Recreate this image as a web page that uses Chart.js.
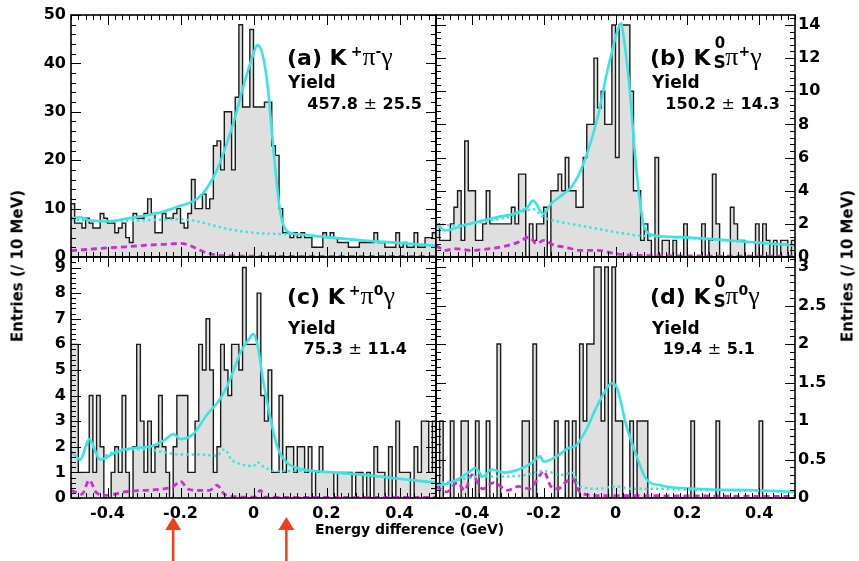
<!DOCTYPE html>
<html><head><meta charset="utf-8">
<script src="https://cdn.jsdelivr.net/npm/chart.js@4.4.1/dist/chart.umd.min.js"></script>
<style>
html,body{margin:0;padding:0;background:#fff;width:859px;height:561px;overflow:hidden;position:relative}
canvas{position:absolute;left:0;top:0}
.t{position:absolute;white-space:nowrap;line-height:1;font-family:"DejaVu Sans",sans-serif;font-weight:bold;color:#000}
.g{font-family:"Liberation Serif","DejaVu Serif",serif;font-weight:normal}
.sp{position:relative;line-height:0}
.pm{font-weight:normal}
</style></head><body>
<canvas id="cA" width="859" height="561"></canvas>
<canvas id="cB" width="859" height="561"></canvas>
<canvas id="cC" width="859" height="561"></canvas>
<canvas id="cD" width="859" height="561"></canvas>

<div class="t" style="left:287px;top:44px;font-size:22px">(a) K<span class="sp" style="font-size:14px;top:-9px;margin-left:4px">+</span><span class="g" style="font-size:26px">π</span><span class="sp" style="font-size:14px;top:-9px">-</span><span class="g" style="font-size:26px">γ</span></div>
<div class="t" style="left:288px;top:74px;font-size:17px">Yield</div>
<div class="t" style="right:437px;top:96px;font-size:16px">457.8 <span class="pm">±</span> 25.5</div>

<div class="t" style="left:650px;top:44px;font-size:22px">(b) K<span class="sp" style="font-size:17px;top:3px;margin-left:3px">S</span><span class="sp" style="font-size:15px;top:-17px;margin-left:-11px">0</span><span class="g" style="font-size:26px">π</span><span class="sp" style="font-size:14px;top:-9px">+</span><span class="g" style="font-size:26px">γ</span></div>
<div class="t" style="left:652px;top:74px;font-size:17px">Yield</div>
<div class="t" style="right:79px;top:96px;font-size:16px">150.2 <span class="pm">±</span> 14.3</div>

<div class="t" style="left:287px;top:283px;font-size:22px">(c) K<span class="sp" style="font-size:14px;top:-9px;margin-left:4px">+</span><span class="g" style="font-size:26px">π</span><span class="sp" style="font-size:14px;top:-9px">0</span><span class="g" style="font-size:26px">γ</span></div>
<div class="t" style="left:288px;top:320px;font-size:17px">Yield</div>
<div class="t" style="right:452px;top:341px;font-size:16px">75.3 <span class="pm">±</span> 11.4</div>

<div class="t" style="left:650px;top:283px;font-size:22px">(d) K<span class="sp" style="font-size:17px;top:3px;margin-left:3px">S</span><span class="sp" style="font-size:15px;top:-17px;margin-left:-11px">0</span><span class="g" style="font-size:26px">π</span><span class="sp" style="font-size:14px;top:-9px">0</span><span class="g" style="font-size:26px">γ</span></div>
<div class="t" style="left:652px;top:320px;font-size:17px">Yield</div>
<div class="t" style="right:104px;top:341px;font-size:16px">19.4 <span class="pm">±</span> 5.1</div>

<div class="t" style="left:18px;top:266px;font-size:15px;transform:translate(-50%,-50%) rotate(-90deg)">Entries (/ 10 MeV)</div>
<div class="t" style="left:848px;top:266px;font-size:15px;transform:translate(-50%,-50%) rotate(-90deg)">Entries (/ 10 MeV)</div>
<div class="t" style="left:315px;top:522px;font-size:14px">Energy difference (GeV)</div>

<script>
// ---------- data ----------
const binLow = Array.from({length: 100}, (_, i) => -0.5 + i * 0.01); // 10 MeV bins, lower edges (GeV)
const xRange = [-0.5, 0.5];
const xTickLabels = [-0.4, -0.2, 0, 0.2, 0.4];
const yTicksA = [0, 10, 20, 30, 40, 50];
const yTicksB = [0, 2, 4, 6, 8, 10, 12, 14];
const yTicksC = [0, 1, 2, 3, 4, 5, 6, 7, 8, 9];
const yTicksD = [0, 0.5, 1, 1.5, 2, 2.5, 3];
const arrowMarks = [-0.22, 0.09];

// (a) K+ pi- gamma
const binsA = [11,7,7,6,8,7,6,6,9,8, 7,7,5,6,7,4,3,9,8,8, 9,12,9,5,5,9,8,8,9,10,
  7,6,9,16,10,10,13,10,12,23, 24,18,30,30,18,33,48,31,31,47, 31,31,31,32,32,23,21,10,5,5,
  4,5,4,5,4,4,2,2,2,5, 4,5,4,3,3,3,2,2,2,3, 3,3,3,5,3,3,2,2,2,5, 2,3,2,2,5,2,2,4,4,5];
const totA_x = [-0.5,-0.475,-0.45,-0.4,-0.35,-0.3,-0.25,-0.2,-0.175,-0.15,-0.125,-0.1,-0.075,-0.05,-0.025,0,0.01,0.02,0.03,0.04,0.05,0.06,0.07,0.08,0.09,0.1,0.15,0.2,0.3,0.4,0.5];
const totA   = [8.0,8.2,7.6,7.4,7.9,8.5,9.3,10.6,11.2,12.3,14.5,18,23,29,36,42,43.8,43,40,34.5,26,18,11,7,5.5,5,4.5,4.1,3.4,2.9,2.3];
const bkgA_x = [-0.5,-0.45,-0.4,-0.3,-0.2,-0.15,-0.1,-0.05,0,0.05,0.1,0.15,0.2,0.3,0.4,0.5];
const bkgA   = [7.8,7.5,7.4,7.6,7.8,7.3,6.3,5.5,5.0,4.8,4.7,4.5,4.1,3.4,2.9,2.3];
const magA_x = [-0.5,-0.45,-0.4,-0.35,-0.3,-0.25,-0.2,-0.175,-0.15,-0.125,-0.1,-0.05,0,0.1,0.2,0.3,0.4,0.5];
const magA   = [1.3,1.6,1.9,2.1,2.4,2.6,2.8,2.4,1.5,0.8,0.4,0.2,0.15,0.12,0.1,0.1,0.1,0.1];

// (b) K0S pi+ gamma
const binsB = [2,1,1,1,2,3,4,1,7,4, 4,1,1,2,4,2,2,2,2,2, 2,3,2,5,5,0,2,1,2,2,
  3,0,4,4,5,4,6,4,4,3, 3,6,8,8,12,9,10,8,8,14, 6,14,14,14,10,4,4,1,2,1,
  0,6,0,1,1,0,1,0,0,2, 0,0,0,0,2,0,1,5,2,0, 0,0,3,2,1,1,0,0,0,2, 0,2,1,0,1,0,1,1,0,1];
const totB_x = [-0.5,-0.475,-0.425,-0.37,-0.33,-0.285,-0.245,-0.23,-0.2,-0.18,-0.145,-0.12,-0.09,-0.05,-0.025,0.005,0.015,0.025,0.04,0.055,0.07,0.08,0.11,0.18,0.32,0.5];
const totB   = [2.05,1.6,1.9,2.2,2.4,2.6,3.0,3.4,2.6,3.2,3.8,4.3,5.6,8.4,11,13.6,14.1,12.9,10,6,3,1.8,1.3,1.2,1.0,0.7];
const bkgB_x = [-0.5,-0.45,-0.4,-0.35,-0.3,-0.25,-0.23,-0.2,-0.15,-0.1,-0.05,0,0.03,0.06,0.1,0.2,0.3,0.4,0.5];
const bkgB   = [2.0,1.9,2.0,2.2,2.4,2.8,2.9,2.4,2.1,1.9,1.7,1.5,1.4,1.3,1.25,1.15,1.0,0.85,0.7];
const magB_x = [-0.5,-0.475,-0.45,-0.4,-0.35,-0.3,-0.27,-0.24,-0.22,-0.2,-0.17,-0.14,-0.1,-0.05,0,0.05,0.5];
const magB   = [0.7,0.4,0.5,0.4,0.5,0.7,0.9,1.2,0.8,1.0,0.7,0.6,0.4,0.4,0.2,0.1,0.05];

// (c) K+ pi0 gamma
const binsC = [6,6,1,1,1,4,1,4,2,0, 0,1,2,1,4,1,0,2,6,3, 1,3,1,2,4,2,1,0,2,4,
  4,4,1,1,3,6,5,7,5,1, 2,6,5,4,6,6,5,9,6,6, 6,8,4,3,5,1,1,4,1,2,
  2,1,2,2,1,2,0,1,2,1, 1,1,0,1,1,1,1,0,1,1, 0,1,0,2,1,1,0,2,0,3, 1,1,1,0,2,1,3,3,1,3];
const totC_x = [-0.5,-0.475,-0.45,-0.42,-0.375,-0.33,-0.285,-0.24,-0.22,-0.2,-0.165,-0.13,-0.09,-0.065,-0.035,-0.013,0,0.012,0.025,0.045,0.065,0.09,0.125,0.22,0.31,0.4,0.5];
const totC   = [1.84,1.5,2.3,1.5,1.8,1.95,2.0,2.3,2.5,2.3,2.5,3.2,3.9,4.6,5.7,6.2,6.4,5.9,4.7,3.2,2.0,1.4,1.15,1.0,0.9,0.75,0.6];
const bkgC_x = [-0.5,-0.475,-0.45,-0.42,-0.4,-0.35,-0.3,-0.25,-0.2,-0.15,-0.1,-0.08,-0.06,-0.03,0,0.01,0.03,0.06,0.1,0.15,0.2,0.3,0.4,0.5];
const bkgC   = [1.8,1.5,2.2,1.5,1.7,1.9,1.9,1.8,1.7,1.7,1.65,1.9,1.5,1.3,1.25,1.4,1.2,1.05,1.05,1.05,1.0,0.9,0.75,0.6];
const magC_x = [-0.5,-0.47,-0.45,-0.43,-0.4,-0.35,-0.3,-0.25,-0.22,-0.2,-0.18,-0.15,-0.12,-0.1,-0.08,-0.05,0,0.02,0.03,0.5];
const magC   = [0.3,0.15,0.7,0.2,0.1,0.25,0.3,0.35,0.45,0.65,0.35,0.3,0.3,0.5,0.15,0.05,0.03,0.3,0.03,0.02];

// (d) K0S pi0 gamma
const binsD = [0,1,0,0,1,0,0,1,1,0, 0,1,0,0,1,0,0,2,0,0, 0,0,0,0,1,1,0,2,0,0,
  0,0,0,1,0,0,1,0,1,0, 2,1,2,2,3,3,1,3,0,3, 1,1,0,0,1,0,1,1,1,0,
  0,0,0,0,0,0,0,0,0,0, 0,1,0,0,0,0,0,0,1,0, 0,0,0,0,0,0,0,0,0,0, 1,0,0,0,0,0,0,0,0,0];
const totD_x = [-0.5,-0.49,-0.44,-0.41,-0.39,-0.37,-0.345,-0.31,-0.27,-0.235,-0.21,-0.2,-0.165,-0.13,-0.11,-0.08,-0.055,-0.025,-0.01,0.005,0.03,0.06,0.085,0.13,0.22,0.4,0.5];
const totD   = [0.19,0.17,0.24,0.33,0.39,0.28,0.37,0.33,0.37,0.45,0.54,0.47,0.54,0.65,0.68,0.9,1.16,1.42,1.49,1.42,0.94,0.53,0.25,0.16,0.12,0.1,0.08];
const bkgD_x = [-0.5,-0.45,-0.4,-0.35,-0.3,-0.25,-0.2,-0.15,-0.12,-0.1,-0.05,0,0.05,0.1,0.2,0.3,0.4,0.5];
const bkgD   = [0.19,0.22,0.27,0.28,0.28,0.3,0.35,0.3,0.33,0.15,0.12,0.15,0.12,0.12,0.11,0.1,0.09,0.08];
const magD_x = [-0.5,-0.47,-0.44,-0.42,-0.4,-0.37,-0.34,-0.3,-0.27,-0.24,-0.21,-0.2,-0.18,-0.16,-0.14,-0.12,-0.1,-0.05,0,0.5];
const magD   = [0.15,0.08,0.2,0.1,0.3,0.12,0.2,0.1,0.15,0.12,0.3,0.35,0.15,0.12,0.2,0.25,0.08,0.03,0.03,0.02];

// ---------- drawing ----------
const CYAN = '#3ae4e2', MAG = '#d22ad2', FILL = '#dfdfdf';
const TICKFONT = {family: 'DejaVu Sans', size: 16, weight: 'bold'};
const zip = (xs, ys) => xs.map((x, i) => ({x, y: ys[i]}));
function hist(bins) {
  const pts = bins.map((v, i) => ({x: binLow[i], y: v}));
  pts.push({x: xRange[1], y: bins[bins.length - 1]});
  return pts;
}
const fmt = v => String(Math.round(v * 1000) / 1000);

const rootAxes = {
  id: 'rootAxes',
  afterDatasetsDraw(chart, args, o) {
    const {ctx, chartArea: a, scales: {x, y}} = chart;
    ctx.save();
    ctx.strokeStyle = '#000';
    ctx.lineWidth = 1;
    ctx.beginPath();
    const near = (v, s) => Math.abs(v / s - Math.round(v / s)) < 1e-6;
    for (let k = 0; ; k++) {
      const v = xRange[0] + k * o.xMinor;
      if (v > xRange[1] + 1e-9) break;
      const len = near(v, o.xMajor) ? 10 : 5;
      const p = Math.round(x.getPixelForValue(v)) + 0.5;
      ctx.moveTo(p, a.bottom); ctx.lineTo(p, a.bottom - len);
      ctx.moveTo(p, a.top); ctx.lineTo(p, a.top + len);
    }
    for (let k = 0; ; k++) {
      const v = k * o.yMinor;
      if (v > y.max + 1e-9) break;
      const len = near(v, o.yMajor) ? 10 : 5;
      const p = Math.round(y.getPixelForValue(v)) + 0.5;
      ctx.moveTo(a.left, p); ctx.lineTo(a.left + len, p);
      ctx.moveTo(a.right, p); ctx.lineTo(a.right - len, p);
    }
    ctx.stroke();
    ctx.lineWidth = 1.6;
    ctx.strokeRect(a.left, a.top, a.right - a.left, a.bottom - a.top);
    ctx.restore();
  },
  afterDraw(chart, args, o) {
    if (!o.arrows) return;
    const {ctx, scales: {x}} = chart;
    ctx.save();
    ctx.strokeStyle = '#f2401c';
    ctx.fillStyle = '#f2401c';
    ctx.lineWidth = 2.5;
    o.arrows.forEach(v => {
      const p = x.getPixelForValue(v);
      ctx.beginPath(); ctx.moveTo(p, 527); ctx.lineTo(p, 561); ctx.stroke();
      ctx.beginPath(); ctx.moveTo(p, 517); ctx.lineTo(p - 8, 530); ctx.lineTo(p + 8, 530); ctx.closePath(); ctx.fill();
    });
    ctx.restore();
  }
};

function panel(id, o) {
  const ds = [
    {data: zip(o.totX, o.tot), borderColor: CYAN, borderWidth: 2.6, pointRadius: 0, cubicInterpolationMode: 'monotone', fill: false},
    {data: zip(o.bkgX, o.bkg), borderColor: CYAN, borderWidth: 2.4, borderDash: [2.5, 3], pointRadius: 0, cubicInterpolationMode: 'monotone', fill: false},
    {data: zip(o.magX, o.mag), borderColor: MAG, borderWidth: 2.8, borderDash: [6, 4], pointRadius: 0, cubicInterpolationMode: 'monotone', fill: false},
    {data: hist(o.bins), borderColor: '#1a1a1a', borderWidth: 1.4, backgroundColor: FILL, fill: 'origin', stepped: true, pointRadius: 0, borderJoinStyle: 'miter'}
  ];
  new Chart(document.getElementById(id), {
    type: 'line',
    data: {datasets: ds},
    options: {
      responsive: false, animation: false, devicePixelRatio: 1, events: [],
      layout: {padding: o.pad},
      plugins: {legend: {display: false}, tooltip: {enabled: false},
        rootAxes: {xMinor: 0.02, xMajor: 0.2, yMinor: o.yMinor, yMajor: o.yMajor, arrows: o.arrows}},
      scales: {
        x: {type: 'linear', min: xRange[0], max: xRange[1], position: 'bottom',
          grid: {display: false, drawTicks: false}, border: {display: false},
          ticks: {display: o.showX, font: TICKFONT, color: '#000', padding: 6, maxRotation: 0, autoSkip: false, callback: fmt},
          afterBuildTicks: s => { s.ticks = xTickLabels.map(v => ({value: v})); },
          afterFit: s => { s.height = o.showX ? 40 : 0; }},
        y: {type: 'linear', min: 0, max: o.yMax, position: o.yPos,
          grid: {display: false, drawTicks: false}, border: {display: false},
          ticks: {font: TICKFONT, color: '#000', padding: o.yPos === 'left' ? 5 : 3, autoSkip: false, callback: fmt},
          afterBuildTicks: s => { s.ticks = o.yTicks.map(v => ({value: v})); },
          afterFit: s => { s.width = 60; }}
      }
    },
    plugins: [rootAxes]
  });
}

panel('cA', {bins: binsA, totX: totA_x, tot: totA, bkgX: bkgA_x, bkg: bkgA, magX: magA_x, mag: magA,
  yMax: 50, yTicks: yTicksA, yMinor: 2, yMajor: 10, yPos: 'left', showX: false,
  pad: {left: 11, right: 423, top: 15, bottom: 304}});
panel('cB', {bins: binsB, totX: totB_x, tot: totB, bkgX: bkgB_x, bkg: bkgB, magX: magB_x, mag: magB,
  yMax: 14.6, yTicks: yTicksB, yMinor: 0.4, yMajor: 2, yPos: 'right', showX: false,
  pad: {left: 436, right: 4, top: 15, bottom: 304}});
panel('cC', {bins: binsC, totX: totC_x, tot: totC, bkgX: bkgC_x, bkg: bkgC, magX: magC_x, mag: magC,
  yMax: 9.41, yTicks: yTicksC, yMinor: 0.2, yMajor: 1, yPos: 'left', showX: true, arrows: arrowMarks,
  pad: {left: 11, right: 423, top: 257, bottom: 23}});
panel('cD', {bins: binsD, totX: totD_x, tot: totD, bkgX: bkgD_x, bkg: bkgD, magX: magD_x, mag: magD,
  yMax: 3.13, yTicks: yTicksD, yMinor: 0.1, yMajor: 0.5, yPos: 'right', showX: true,
  pad: {left: 436, right: 4, top: 257, bottom: 23}});
</script>
</body></html>
